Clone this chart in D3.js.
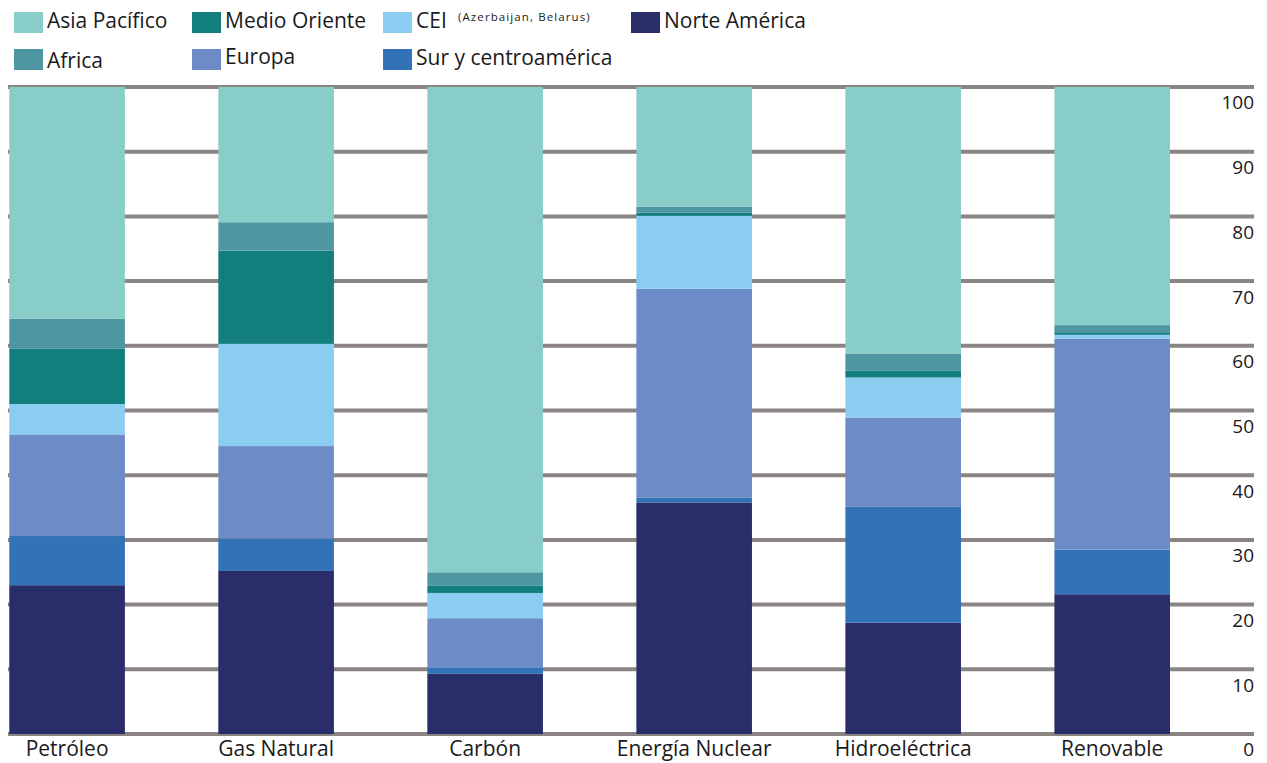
<!DOCTYPE html>
<html>
<head>
<meta charset="utf-8">
<script src="https://cdn.jsdelivr.net/npm/d3@7"></script>
<style>
  html, body { margin: 0; padding: 0; background: #fff; }
  svg { display: block; font-family: "Open Sans", "Noto Sans", sans-serif; }
</style>
</head>
<body>
<svg id="chart" width="1267" height="763"></svg>
<script>
// Energy sources (x axis)
const categories = ["Petróleo", "Gas Natural", "Carbón", "Energía Nuclear", "Hidroeléctrica", "Renovable"];

// Regional share (%) of each source, stacked bottom to top
const norteAmerica     = [23.0, 25.2,  9.3, 35.8, 17.2, 21.6];
const surCentroamerica = [ 7.6,  5.0,  0.9,  0.7, 17.9,  6.9];
const europa           = [15.7, 14.3,  7.7, 32.3, 13.8, 32.6];
const cei              = [ 4.7, 15.8,  3.9, 11.3,  6.2,  0.6];
const medioOriente     = [ 8.6, 14.4,  1.1,  0.5,  1.1,  0.4];
const africa           = [ 4.6,  4.4,  2.1,  0.9,  2.6,  1.1];
const asiaPacifico     = [35.8, 20.9, 75.0, 18.5, 41.2, 36.8];

const yTicks = [0, 10, 20, 30, 40, 50, 60, 70, 80, 90, 100];

const series = [
  { key: "Norte América",       values: norteAmerica,     color: "#292d69" },
  { key: "Sur y centroamérica", values: surCentroamerica, color: "#3272b6" },
  { key: "Europa",              values: europa,           color: "#6c8bc7" },
  { key: "CEI",                 values: cei,              color: "#8bcdf0" },
  { key: "Medio Oriente",       values: medioOriente,     color: "#127f7e" },
  { key: "Africa",              values: africa,           color: "#4e96a1" },
  { key: "Asia Pacífico",       values: asiaPacifico,     color: "#89cdc8" }
];

const rows = categories.map((c, i) => {
  const r = { category: c };
  series.forEach(s => { r[s.key] = s.values[i]; });
  return r;
});

const svg = d3.select("#chart");

const x = d3.scaleBand()
  .domain(categories)
  .range([9.3, 1170])
  .paddingInner(0.447)
  .paddingOuter(0);

const y = d3.scaleLinear().domain([0, 100]).range([734, 87]);

const color = d3.scaleOrdinal().domain(series.map(s => s.key)).range(series.map(s => s.color));

// Horizontal gridlines behind the bars
const gridLeft = 8, gridRight = 1254;
svg.append("g")
  .selectAll("line")
  .data(yTicks)
  .join("line")
  .attr("x1", gridLeft)
  .attr("x2", gridRight)
  .attr("y1", d => y(d))
  .attr("y2", d => y(d))
  .attr("stroke", "#8a8583")
  .attr("stroke-width", 4);

// Right-hand value labels, set just below each gridline
const yAxis = d3.axisRight(y).tickValues(yTicks).tickSize(0).tickPadding(0);
const yAxisG = svg.append("g")
  .attr("transform", `translate(${gridRight},0)`)
  .call(yAxis);
yAxisG.select(".domain").remove();
yAxisG.selectAll("text")
  .attr("text-anchor", "end")
  .attr("x", 0)
  .attr("dy", "1.05em")
  .attr("y", 2)
  .attr("fill", "#1a1a1a")
  .style("font-size", "19px")
  .style("font-family", "'Open Sans', sans-serif");

// Stacked bars
const stacked = d3.stack().keys(series.map(s => s.key))(rows);
svg.append("g")
  .selectAll("g")
  .data(stacked)
  .join("g")
  .attr("fill", d => color(d.key))
  .selectAll("rect")
  .data(d => d)
  .join("rect")
  .attr("x", d => x(d.data.category))
  .attr("width", x.bandwidth())
  .attr("y", d => y(d[1]))
  .attr("height", d => y(d[0]) - y(d[1]));

// Category labels under the bars
const xAxis = d3.axisBottom(x).tickSize(0).tickPadding(0);
const xAxisG = svg.append("g")
  .attr("transform", "translate(0,735)")
  .call(xAxis);
xAxisG.select(".domain").remove();
xAxisG.selectAll("text")
  .attr("y", 0)
  .attr("dy", "1.0em")
  .attr("fill", "#1a1a1a")
  .style("font-size", "21px")
  .style("font-family", "'Open Sans', sans-serif");

// Legend
const legendItems = [
  { key: "Asia Pacífico",       x: 14,  y: 12, ty: 28 },
  { key: "Medio Oriente",       x: 192, y: 12, ty: 28 },
  { key: "CEI",                 x: 383, y: 12, ty: 28 },
  { key: "Norte América",       x: 631, y: 12, ty: 28 },
  { key: "Africa",              x: 14,  y: 49, ty: 68 },
  { key: "Europa",              x: 192, y: 49, ty: 64 },
  { key: "Sur y centroamérica", x: 383, y: 49, ty: 65 }
];
const legend = svg.append("g")
  .selectAll("g")
  .data(legendItems)
  .join("g");
legend.append("rect")
  .attr("x", d => d.x)
  .attr("y", d => d.y)
  .attr("width", 29)
  .attr("height", 21)
  .attr("fill", d => color(d.key));
legend.append("text")
  .attr("x", d => d.x + 33)
  .attr("y", d => d.ty)
  .attr("fill", "#1a1a1a")
  .style("font-size", "21px")
  .text(d => d.key);

// Member-state note next to CEI
svg.append("text")
  .attr("x", 458)
  .attr("y", 21)
  .attr("fill", "#1a1a1a")
  .style("font-size", "11.5px")
  .style("letter-spacing", "1.1px")
  .text("(Azerbaijan, Belarus)");
</script>
</body>
</html>
